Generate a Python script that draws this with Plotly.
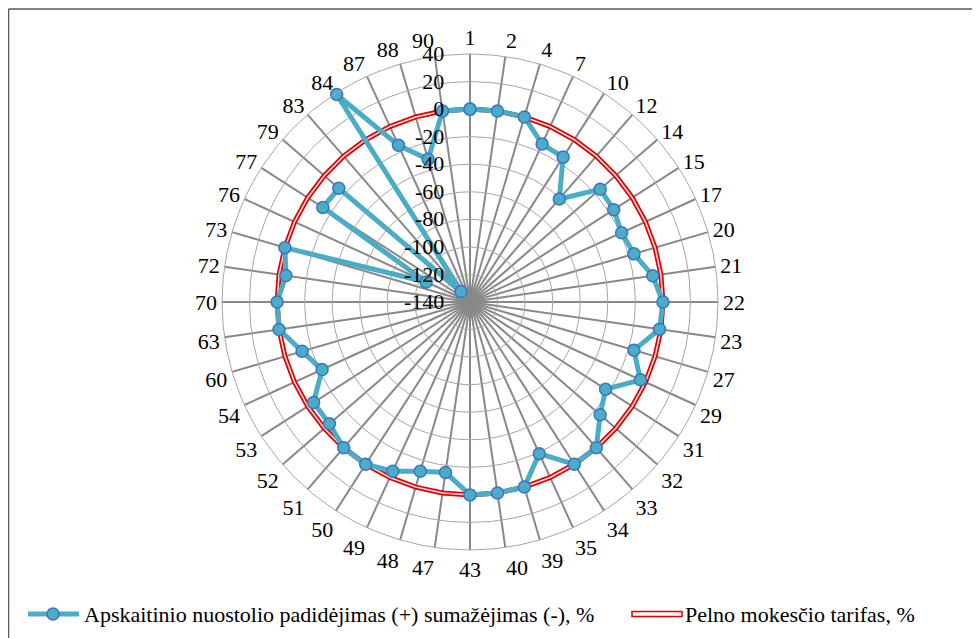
import plotly.graph_objects as go

categories = ["1", "2", "4", "7", "10", "12", "14", "15", "17", "20", "21", "22",
              "23", "27", "29", "31", "32", "33", "34", "35", "39", "40", "43",
              "47", "48", "49", "50", "51", "52", "53", "54", "60", "63", "70",
              "72", "73", "76", "77", "79", "83", "84", "87", "88", "90"]

loss_change = [0, 0, 0, -14, -15, -41, -15, -16, -19, -16, -6, 0,
               -1, -16, -4, -23, -15, 0, 0, -19, 0, 0, 0,
               -15, -12, -5, 0, 0, -5, -5, -22, -13, 0, 0,
               -5, 0, -105, -13, -14, -130, 39, -15, -32, 0]

tax_rate = [0] * len(categories)

radial_ticks = [-140, -120, -100, -80, -60, -40, -20, 0, 20, 40]
radial_labels = ["-140", "-120", "-100", "-80", "-60", "-40", "-20", "0", "20", "40"]

series_names = ["Apskaitinio nuostolio padidėjimas (+) sumažėjimas (-), %",
                "Pelno mokesčio tarifas, %"]

W, H = 980, 638
OFF = 8  # page body margin
cx, cy, R = 470 - OFF, 302 - OFF, 248
FONT = "'Liberation Serif', 'Times New Roman', Times, 'DejaVu Serif', serif"
FS = 22

theta_closed = categories + categories[:1]
tax_closed = tax_rate + tax_rate[:1]
loss_closed = loss_change + loss_change[:1]

fig = go.Figure()

fig.add_trace(go.Scatterpolar(
    r=tax_closed, theta=theta_closed, mode="lines",
    line=dict(color="#E00000", width=5), name=series_names[1],
    showlegend=False, hoverinfo="skip"))
fig.add_trace(go.Scatterpolar(
    r=tax_closed, theta=theta_closed, mode="lines",
    line=dict(color="#DDDDDD", width=1.6), name=series_names[1],
    showlegend=False, hoverinfo="skip"))

fig.add_trace(go.Scatterpolar(
    r=loss_closed, theta=theta_closed, mode="lines+markers",
    line=dict(color="#4BACC6", width=5),
    marker=dict(size=12, color="#4BACC6", line=dict(color="#3C74C4", width=1.5)),
    name=series_names[0], showlegend=False))

fig.update_layout(
    width=W, height=H,
    margin=dict(l=0, r=0, t=0, b=0),
    paper_bgcolor="white",
    plot_bgcolor="white",
    font=dict(family=FONT, size=FS, color="black"),
    polar=dict(
        domain=dict(x=[(cx - R) / W, (cx + R) / W],
                    y=[(H - cy - R) / H, (H - cy + R) / H]),
        bgcolor="white",
        angularaxis=dict(
            type="category",
            categoryorder="array", categoryarray=categories,
            direction="clockwise", rotation=90,
            showgrid=True, gridcolor="#888888", gridwidth=1.5,
            showline=True, linecolor="#A6A6A6", linewidth=1,
            ticks="", tickfont=dict(family=FONT, size=FS, color="black"),
        ),
        radialaxis=dict(
            range=[-140, 40], tickvals=radial_ticks,
            ticktext=[s + "\u00a0" * 4 for s in radial_labels],
            angle=90, tickangle=90, side="counterclockwise",
            showgrid=True, gridcolor="#A6A6A6", gridwidth=1,
            showline=False, ticks="",
            tickfont=dict(family=FONT, size=FS, color="black"),
        ),
    ),
)

# border (top and left edges visible in the reference)
fig.add_shape(type="line", xref="paper", yref="paper",
              x0=0.5 / W, x1=1, y0=1 - 1 / H, y1=1 - 1 / H,
              line=dict(color="#595959", width=1.5))
fig.add_shape(type="line", xref="paper", yref="paper",
              x0=0.5 / W, x1=0.5 / W, y0=0, y1=1 - 1 / H,
              line=dict(color="#595959", width=1.5))

# custom legend
ly = 1 - (614 - OFF) / H
fig.add_shape(type="line", xref="paper", yref="paper",
              x0=(28 - OFF) / W, x1=(79 - OFF) / W, y0=ly, y1=ly,
              line=dict(color="#4BACC6", width=5))
fig.add_shape(type="circle", xref="paper", yref="paper",
              x0=(47 - OFF) / W, x1=(59 - OFF) / W, y0=ly - 6 / H, y1=ly + 6 / H,
              fillcolor="#4BACC6", line=dict(color="#3C74C4", width=1.5))
fig.add_annotation(x=(82 - OFF) / W, y=ly, xref="paper", yref="paper",
                   text=series_names[0], showarrow=False,
                   xanchor="left", yanchor="middle",
                   font=dict(family=FONT, size=FS, color="black"))
fig.add_shape(type="rect", xref="paper", yref="paper",
              x0=(632 - OFF) / W, x1=(682 - OFF) / W, y0=ly - 2.5 / H, y1=ly + 2.5 / H,
              fillcolor="white", line=dict(color="#E00000", width=1.5))
fig.add_annotation(x=(683 - OFF) / W, y=ly, xref="paper", yref="paper",
                   text=series_names[1], showarrow=False,
                   xanchor="left", yanchor="middle",
                   font=dict(family=FONT, size=FS, color="black"))

fig.write_html("out.html")
